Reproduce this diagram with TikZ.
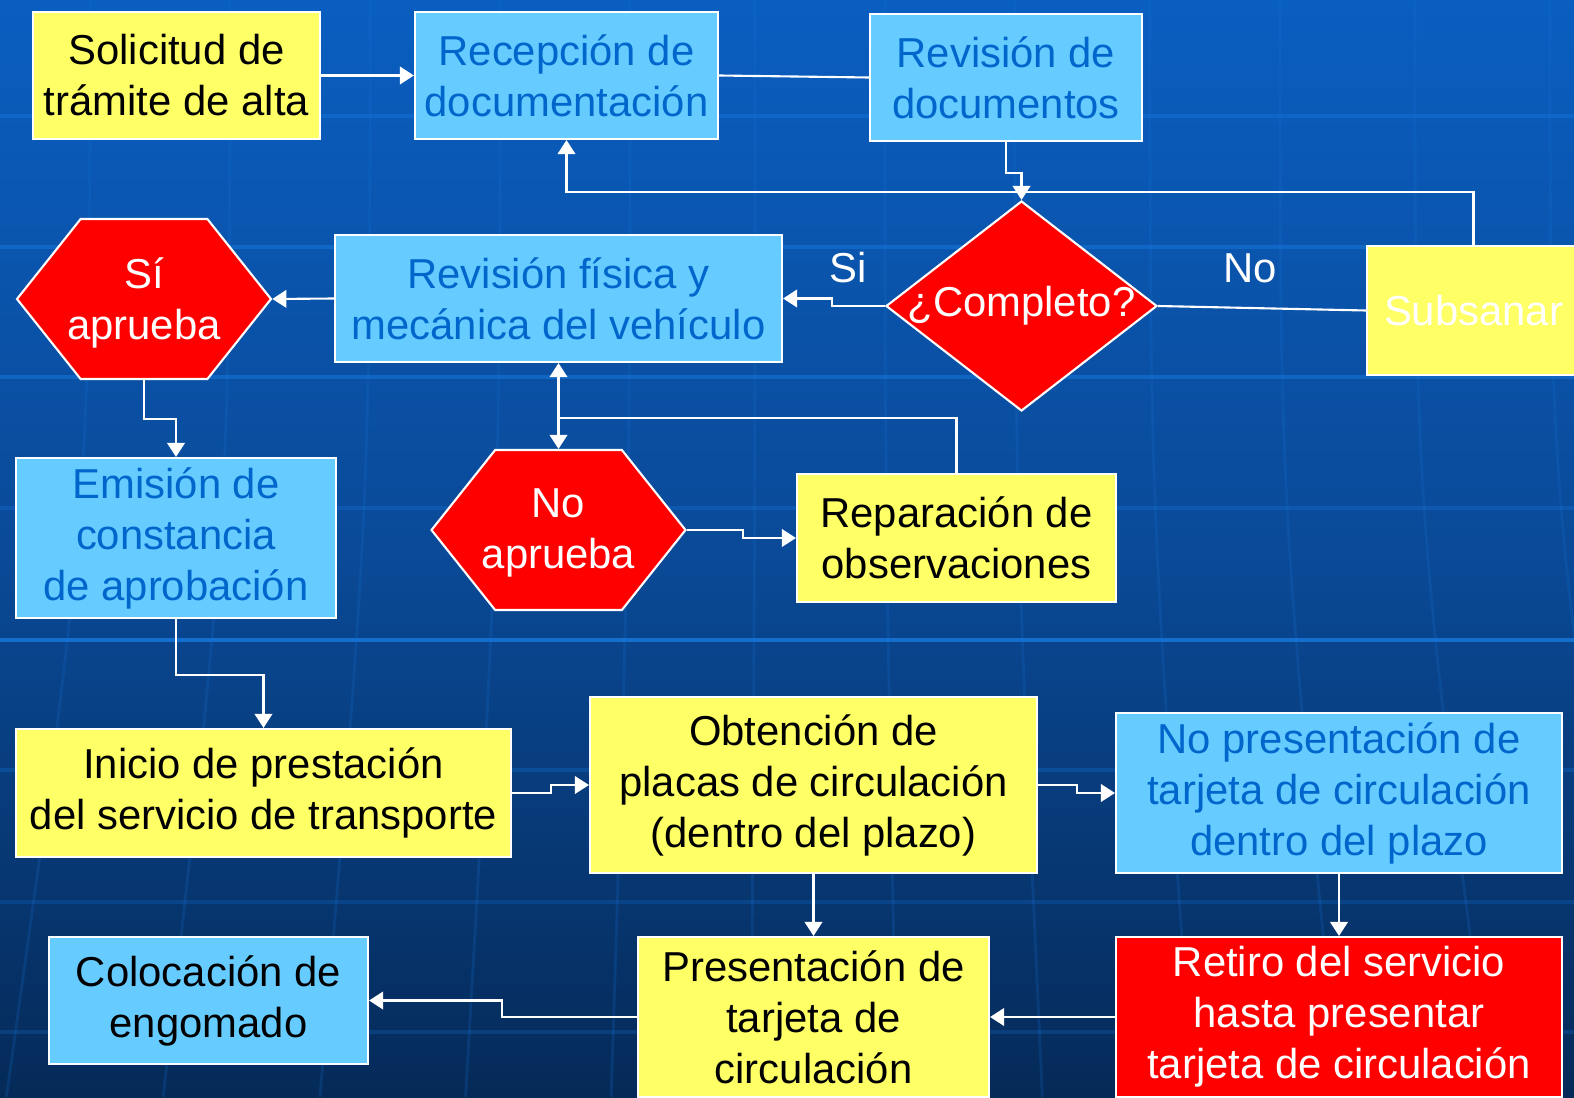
\documentclass[tikz,border=0pt]{standalone}
\usepackage{fontspec}
\setmainfont{Liberation Sans}
\usepackage{xcolor}
\usepackage{tikz}
\usetikzlibrary{shapes.geometric,shapes.symbols,arrows.meta}

\definecolor{cyell}{HTML}{FFFF66}
\definecolor{clight}{HTML}{66CCFF}
\definecolor{cdark}{HTML}{0066CC}
\definecolor{bgtop}{HTML}{0A5EC0}
\definecolor{bgmid}{HTML}{0A4A98}
\definecolor{bgbot}{HTML}{052A58}
\definecolor{gridline}{HTML}{1673D6}

\begin{document}
\begin{tikzpicture}[
    txt/.style={font=\fontsize{11.9}{14.5}\selectfont},
    box/.style={rectangle, draw=white, line width=0.6pt, align=center, inner sep=0pt, txt},
    ybox/.style={box, fill=cyell, text=black},
    bbox/.style={box, fill=clight, text=cdark},
    rbox/.style={box, fill=red, text=white},
    hexa/.style={signal, signal to=west and east, signal pointer angle=103, draw=white, line width=0.6pt, fill=red, inner sep=0pt, minimum width=2.54cm, minimum height=1.6cm},
    decision/.style={diamond, draw=white, line width=0.6pt, fill=red, inner sep=0pt, minimum width=2.71cm, minimum height=2.1cm},
    lbl/.style={text=white, align=center, txt},
    link/.style={white, line width=0.6pt},
    arr/.style={link, -{Triangle[width=5pt,length=4pt]}}
]
    % Background
    \useasboundingbox (0,0) rectangle (15.74,-10.97);
    \shade[top color=bgtop, bottom color=bgbot, middle color=bgmid] (0,0) rectangle (15.74,-10.97);
    \foreach \y/\o in {1.16/0.5, 2.47/0.6, 3.77/0.6, 5.08/0.35, 6.40/0.9, 7.70/0.3, 9.02/0.25, 10.32/0.25}
        \draw[gridline, line width=1.2pt, opacity=\o] (0,-\y) -- (15.74,-\y);
    \foreach \x in {0.9,2.3,3.7,5.0,6.3,7.55,8.85,10.15,11.5,12.8,14.15,15.5}
        \draw[gridline, line width=0.8pt, opacity=0.2] (\x,0) .. controls (\x,-5) .. ({7.87+(\x-7.87)*1.12},-10.97);

    % First row
    \node[ybox, minimum width=2.87cm, minimum height=1.27cm] (sol) at (1.765,-0.755) {Solicitud de\\trámite de alta};
    \node[bbox, minimum width=3.03cm, minimum height=1.27cm] (rec) at (5.665,-0.755) {Recepción de\\documentación};
    \node[bbox, minimum width=2.72cm, minimum height=1.27cm] (revdoc) at (10.06,-0.775) {Revisión de\\documentos};

    % Decision
    \node[decision] (comp) at (10.215,-3.06) {};
    \node[lbl] (comptxt) at (comp) {¿Completo?};
    \node[box, fill=cyell, text=white, minimum width=2.13cm, minimum height=1.29cm] (sub) at (14.735,-3.105) {Subsanar};

    % Inspection
    \node[bbox, minimum width=4.47cm, minimum height=1.27cm] (revfis) at (5.585,-2.985) {Revisión física y\\mecánica del vehículo};
    \node[hexa] (si) at (1.44,-2.99) {};
    \node[lbl] (sitxt) at (1.44,-3.03) {Sí\\aprueba};
    \node[bbox, minimum width=3.2cm, minimum height=1.6cm] (emi) at (1.76,-5.38) {Emisión de\\constancia\\de aprobación};
    \node[hexa] (noap) at (5.585,-5.30) {};
    \node[lbl] (noaptxt) at (5.585,-5.33) {No\\aprueba};
    \node[ybox, minimum width=3.19cm, minimum height=1.28cm] (rep) at (9.565,-5.38) {Reparación de\\observaciones};

    % Service
    \node[ybox, minimum width=4.95cm, minimum height=1.28cm] (ini) at (2.635,-7.93) {Inicio de prestación\\del servicio de transporte};
    \node[ybox, minimum width=4.47cm, minimum height=1.76cm] (obt) at (8.135,-7.85) {Obtención de\\placas de circulación\\(dentro del plazo)};
    \node[bbox, minimum width=4.46cm, minimum height=1.6cm] (nopr) at (13.39,-7.93) {No presentación de\\tarjeta de circulación\\dentro del plazo};
    \node[bbox, text=black, minimum width=3.19cm, minimum height=1.27cm] (col) at (2.085,-10.005) {Colocación de\\engomado};
    \node[ybox, minimum width=3.51cm, minimum height=1.6cm] (pre) at (8.135,-10.17) {Presentación de\\tarjeta de\\circulación};
    \node[rbox, minimum width=4.46cm, minimum height=1.6cm] (ret) at (13.39,-10.17) {Retiro del servicio\\hasta presentar\\tarjeta de circulación};

    % Labels
    \node[lbl] (lsi) at (8.48,-2.68) {Si};
    \node[lbl] (lno) at (12.5,-2.68) {No};

    % Arrows
    \coordinate (back) at (5.665,-1.92);
    \coordinate (join) at (5.585,-4.18);
    \draw[arr] (sol) -- (rec);
    \draw[link] (rec.east) -- (revdoc.west);
    \draw[arr] (revdoc.south) -- ++(0,-0.31) -| (comp.north);
    \draw[arr] (sub.north) |- (back) -- (rec.south);
    \draw[link] (comp.east) -- (sub.west);
    \draw[arr] (comp.west) -- ++(-0.53,0) |- (revfis.east);
    \draw[arr] (revfis.west) -- (si.east);
    \draw[arr] (si.south) -- ++(0,-0.39) -| (emi.north);
    \draw[link, {Triangle[width=5pt,length=4pt]}-{Triangle[width=5pt,length=4pt]}] (revfis.south) -- (noap.north);
    \draw[link] (rep.north) |- (join);
    \draw[arr] (noap.east) -- ++(0.56,0) |- (rep.west);
    \draw[arr] (emi.south) -- ++(0,-0.56) -| (ini.north);
    \draw[arr] (ini.east) -- ++(0.39,0) |- (obt.west);
    \draw[arr] (obt.east) -- ++(0.39,0) |- (nopr.west);
    \draw[arr] (obt.south) -- (pre.north);
    \draw[arr] (nopr.south) -- (ret.north);
    \draw[arr] (ret.west) -- (pre.east);
    \draw[arr] (pre.west) -- ++(-1.35,0) |- (col.east);
\end{tikzpicture}
\end{document}
